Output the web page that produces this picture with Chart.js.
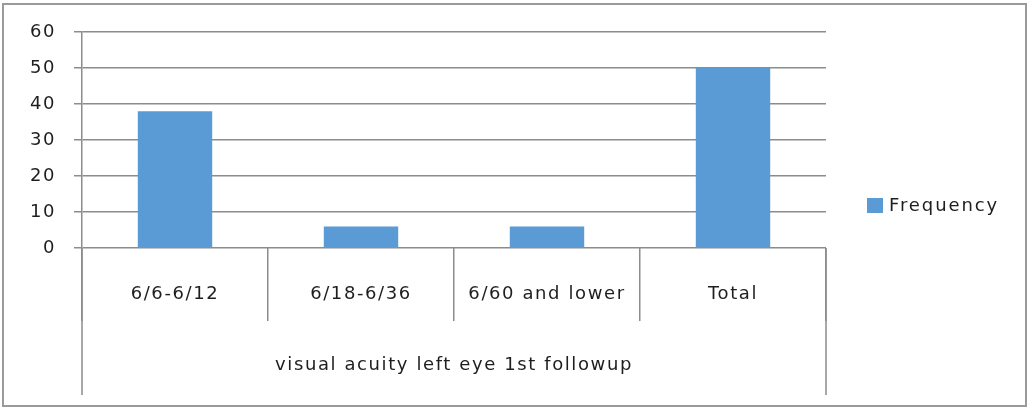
<!DOCTYPE html>
<html>
<head>
<meta charset="utf-8">
<script src="https://cdn.jsdelivr.net/npm/chart.js@4.4.1/dist/chart.umd.min.js"></script>
<style>
  html, body { margin: 0; padding: 0; background: #fff; }
  #wrap { width: 1029px; height: 409px; position: relative; }
</style>
</head>
<body>
<div id="wrap"><canvas id="chart"></canvas></div>
<script>
// Data
const categories = ['6/6-6/12', '6/18-6/36', '6/60 and lower', 'Total'];
const frequency = [38, 6, 6, 50];
const seriesName = 'Frequency';
const groupTitle = 'visual acuity left eye 1st followup';
const yMin = 0;
const yMax = 60;
const yStep = 10;

// Styling
const FONT = "'DejaVu Sans', sans-serif";
const FONT_SIZE = 18;
const LINE_H = FONT_SIZE * 1.2;
const TEXT = '#1e1e1e';
const GRID = '#8c8c8c';
const BAR = '#5B9BD5';
const SPACING = '1.6px';

Chart.defaults.font.family = FONT;
Chart.defaults.font.size = FONT_SIZE;
Chart.defaults.color = TEXT;

// Extra frame work: letter spacing, outer border, group box edges, legend
const framePlugin = {
  id: 'frame',
  beforeDraw(chart) {
    chart.ctx.letterSpacing = SPACING;
  },
  afterDraw(chart) {
    const ctx = chart.ctx;
    const area = chart.chartArea;
    const xs = chart.scales.x;
    ctx.save();
    // outer chart border
    ctx.strokeStyle = '#9a9a9a';
    ctx.lineWidth = 2;
    ctx.strokeRect(3, 4, 1023, 402);
    // left and right edges of the category group box
    ctx.strokeStyle = GRID;
    ctx.lineWidth = 1.5;
    ctx.beginPath();
    ctx.moveTo(area.left, area.bottom);
    ctx.lineTo(area.left, xs.bottom);
    ctx.moveTo(area.right, area.bottom);
    ctx.lineTo(area.right, xs.bottom);
    ctx.stroke();
    // legend
    const ds = chart.data.datasets[0];
    const lx = area.right + 41;
    const ly = 206;
    ctx.fillStyle = ds.backgroundColor;
    ctx.fillRect(lx, ly - 8, 16, 15);
    ctx.fillStyle = TEXT;
    ctx.font = FONT_SIZE + 'px ' + FONT;
    ctx.letterSpacing = '1.9px';
    ctx.textAlign = 'left';
    ctx.textBaseline = 'middle';
    ctx.fillText(ds.label, lx + 22, ly);
    ctx.restore();
  }
};

new Chart(document.getElementById('chart'), {
  type: 'bar',
  data: {
    labels: categories,
    datasets: [{
      label: seriesName,
      data: frequency,
      backgroundColor: BAR,
      borderWidth: 0,
      categoryPercentage: 1.0,
      barPercentage: 0.4
    }]
  },
  options: {
    responsive: true,
    maintainAspectRatio: false,
    devicePixelRatio: 1,
    animation: false,
    layout: { padding: { top: 32, left: 0, right: 203, bottom: 14 } },
    plugins: {
      legend: { display: false },
      tooltip: { enabled: false }
    },
    scales: {
      y: {
        min: yMin,
        max: yMax,
        ticks: { stepSize: yStep, padding: 18, color: TEXT },
        grid: { color: GRID, lineWidth: 1.5, tickLength: 8 },
        border: { display: true, color: GRID, width: 1.5 },
        afterFit(s) { s.width = 82; }
      },
      x: {
        offset: true,
        grid: {
          display: true,
          offset: true,
          drawOnChartArea: false,
          tickLength: 73,
          color: GRID,
          lineWidth: 1.5
        },
        border: { display: false },
        ticks: { padding: 46 - 73 - LINE_H / 2, color: TEXT, maxRotation: 0, autoSkip: false },
        title: {
          display: true,
          text: groupTitle,
          color: TEXT,
          padding: { top: 0, bottom: 395 - 365 - LINE_H / 2 }
        },
        afterFit(s) { s.height = 147; }
      }
    }
  },
  plugins: [framePlugin]
});
</script>
</body>
</html>
